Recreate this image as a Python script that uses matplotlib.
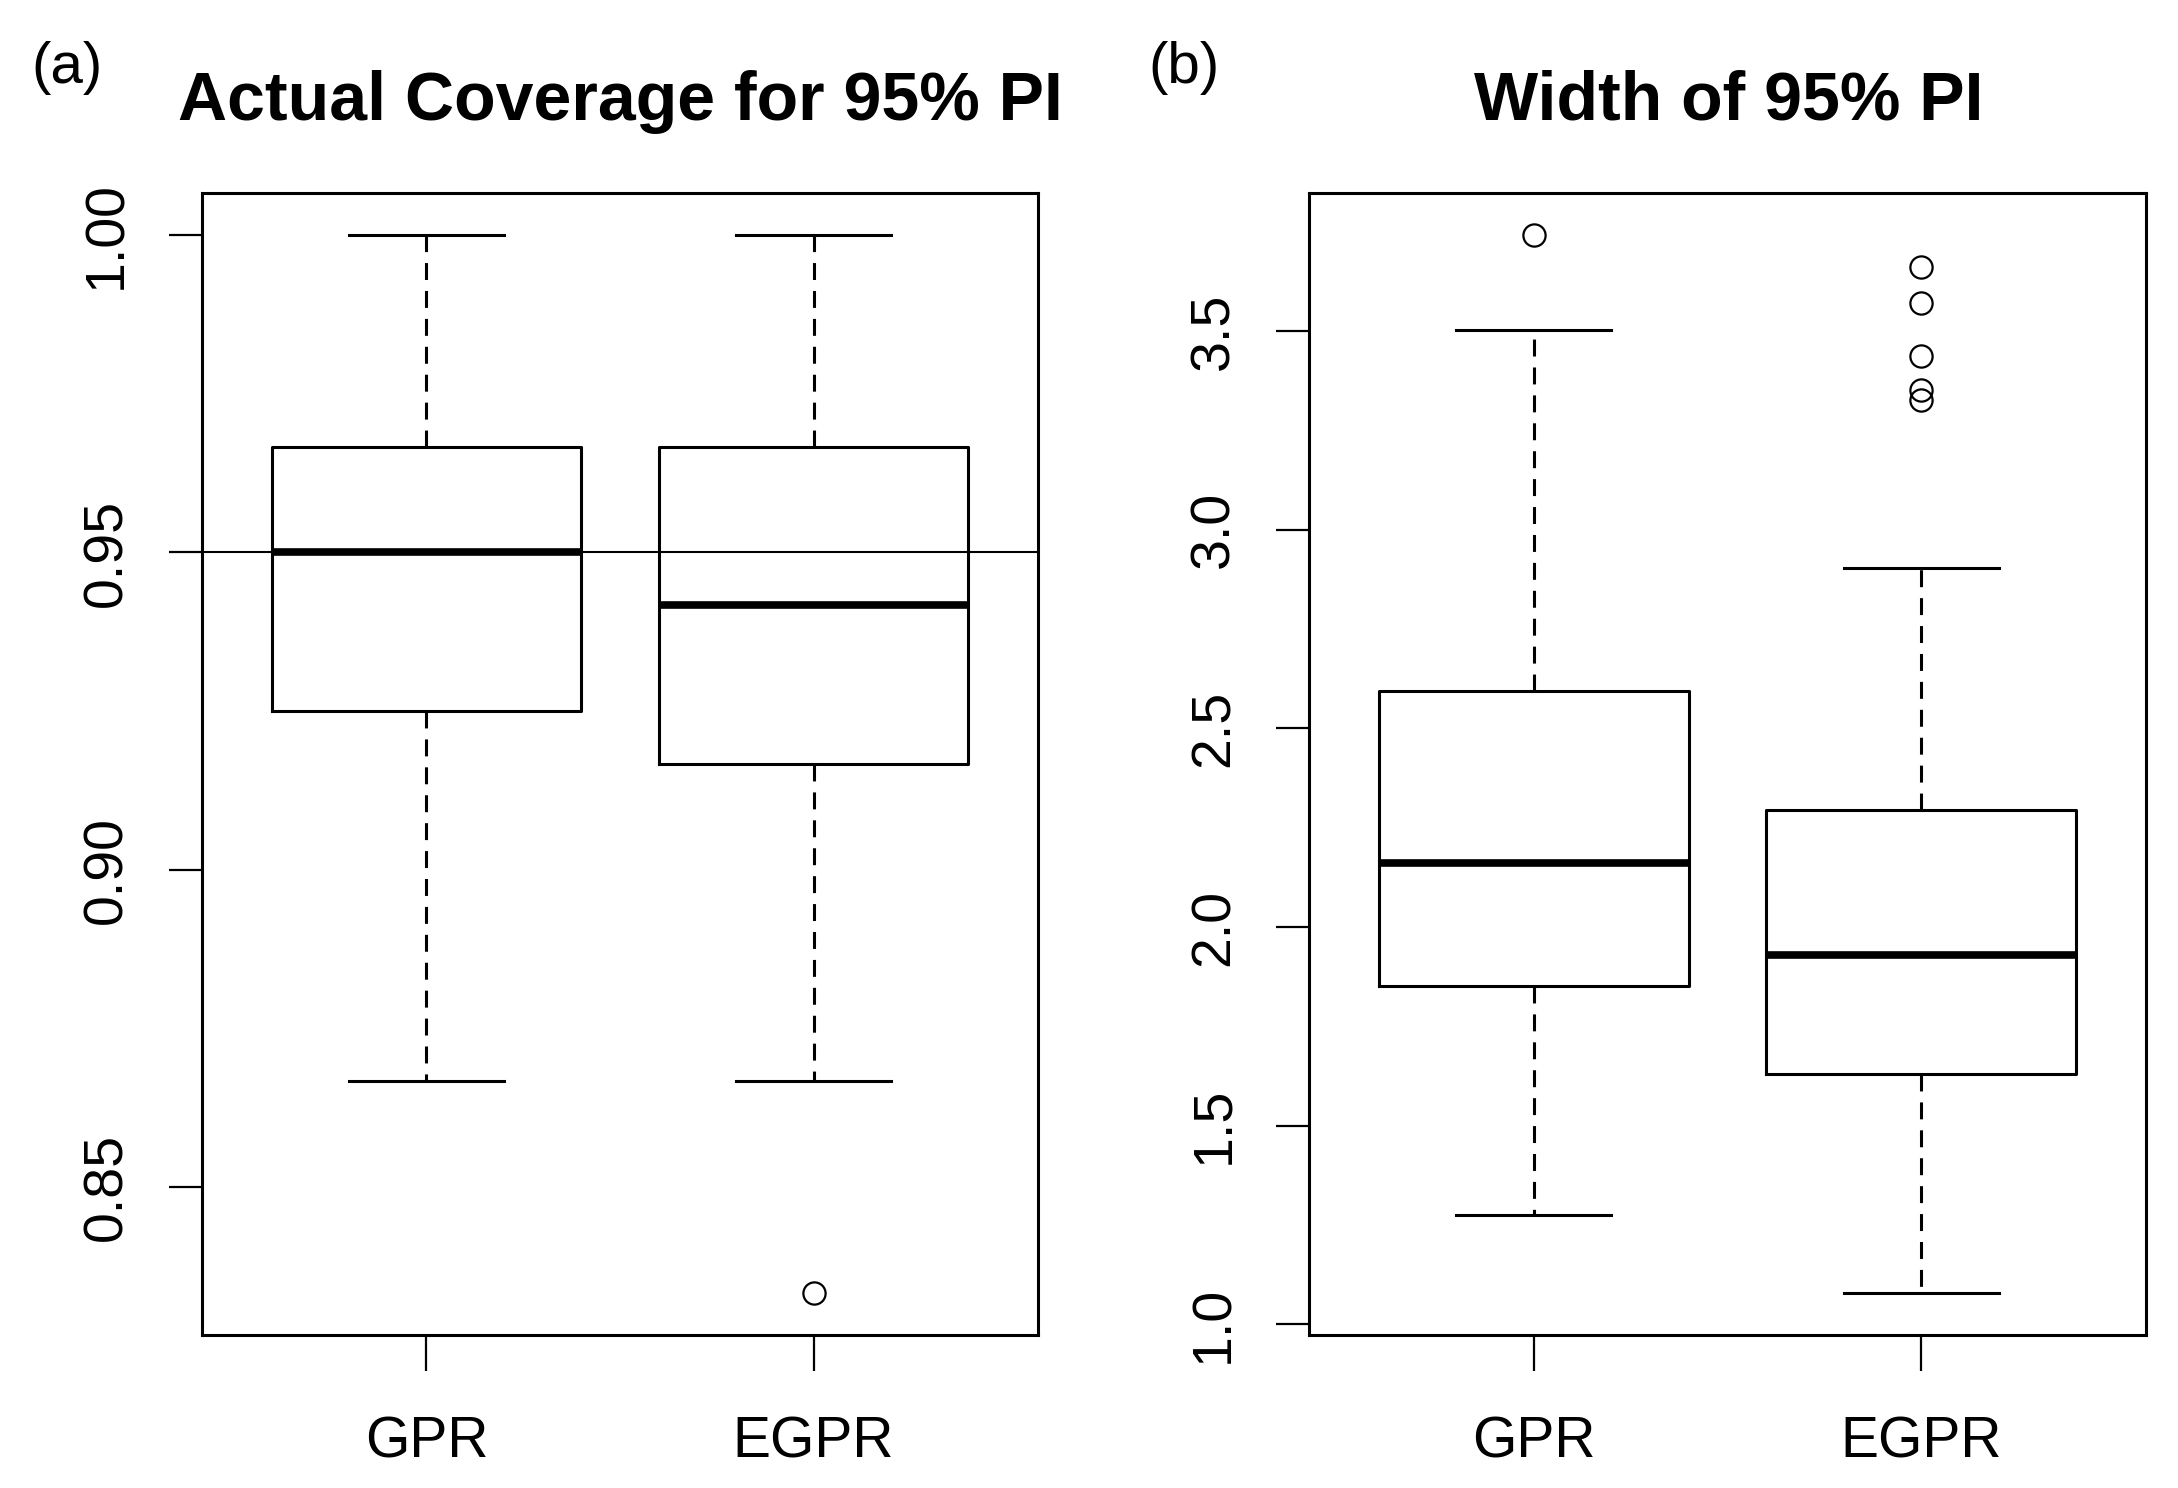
import numpy as np
import matplotlib
matplotlib.use('Agg')
import matplotlib.pyplot as plt

plt.rcParams['font.family'] = ['Liberation Sans', 'DejaVu Sans']
plt.rcParams['lines.scale_dashes'] = False

# Datos
metodos = ['GPR', 'EGPR']

# (a) cobertura real del intervalo de prediccion 95%
cov_lo = [0.8667, 0.8667]
cov_q1 = [0.925, 0.9167]
cov_med = [0.95, 0.9417]
cov_q3 = [0.9667, 0.9667]
cov_hi = [1.0, 1.0]
cov_out = [[], [0.8333]]
cov_ticks = [0.85, 0.90, 0.95, 1.00]
cov_ticklabels = ['0.85', '0.90', '0.95', '1.00']

# (b) ancho del intervalo de prediccion 95%
wid_lo = [1.275, 1.080]
wid_q1 = [1.851, 1.631]
wid_med = [2.161, 1.931]
wid_q3 = [2.593, 2.294]
wid_hi = [3.503, 2.904]
wid_out = [[3.741], [3.660, 3.570, 3.437, 3.352, 3.327]]
wid_ticks = [1.0, 1.5, 2.0, 2.5, 3.0, 3.5]
wid_ticklabels = ['1.0', '1.5', '2.0', '2.5', '3.0', '3.5']

W, H = 2178, 1488
fig = plt.figure(figsize=(W / 100, H / 100), dpi=100)


def make_stats(lo, q1, med, q3, hi, out):
    stats = []
    for i in range(len(lo)):
        stats.append({'whislo': lo[i], 'q1': q1[i], 'med': med[i],
                      'q3': q3[i], 'whishi': hi[i], 'fliers': out[i]})
    return stats


def draw_panel(ax, stats, ticks, ticklabels):
    lw = 2.2
    ax.bxp(stats, positions=[1, 2], widths=0.8, showfliers=True,
           boxprops=dict(color='black', linewidth=lw),
           medianprops=dict(color='black', linewidth=5.5, solid_capstyle='butt'),
           whiskerprops=dict(color='black', linewidth=lw, linestyle=(0, (12.2, 7.9))),
           capprops=dict(color='black', linewidth=lw),
           capwidths=0.4,
           flierprops=dict(marker='o', markersize=16, markerfacecolor='none',
                           markeredgecolor='black', markeredgewidth=1.6))
    # rango estilo R: 4% extra a cada lado
    vals = []
    for s in stats:
        vals += [s['whislo'], s['whishi']] + list(s['fliers'])
    vmin, vmax = min(vals), max(vals)
    r = vmax - vmin
    ax.set_ylim(vmin - 0.04 * r, vmax + 0.04 * r)
    ax.set_xlim(0.42, 2.58)
    ax.set_xticks([1, 2])
    ax.set_xticklabels(metodos, fontsize=41)
    ax.set_yticks(ticks)
    ax.set_yticklabels(ticklabels, fontsize=40, rotation=90)
    for lab in ax.get_yticklabels():
        lab.set_va('center')
    ax.tick_params(axis='y', length=23.5, width=1.6, pad=26)
    ax.tick_params(axis='x', length=26, width=1.6, pad=32)
    for sp in ax.spines.values():
        sp.set_linewidth(2.2)


ax1 = fig.add_axes([202 / W, 1 - 1335 / H, 836 / W, 1142 / H])
draw_panel(ax1, make_stats(cov_lo, cov_q1, cov_med, cov_q3, cov_hi, cov_out),
           cov_ticks, cov_ticklabels)
ax1.axhline(0.95, color='black', linewidth=1.5, zorder=3)

ax2 = fig.add_axes([1309 / W, 1 - 1335 / H, 837 / W, 1142 / H])
draw_panel(ax2, make_stats(wid_lo, wid_q1, wid_med, wid_q3, wid_hi, wid_out),
           wid_ticks, wid_ticklabels)

# titulos y etiquetas de panel
fig.text(620 / W, 1 - 120 / H, 'Actual Coverage for 95% PI', fontsize=49,
         fontweight='bold', ha='center', va='baseline')
fig.text(1729 / W, 1 - 120 / H, 'Width of 95% PI', fontsize=49,
         fontweight='bold', ha='center', va='baseline')
fig.text(31 / W, 1 - 83 / H, '(a)', fontsize=42, ha='left', va='baseline')
fig.text(1148 / W, 1 - 83 / H, '(b)', fontsize=42, ha='left', va='baseline')

fig.savefig('out.png', dpi=100, facecolor='white')
